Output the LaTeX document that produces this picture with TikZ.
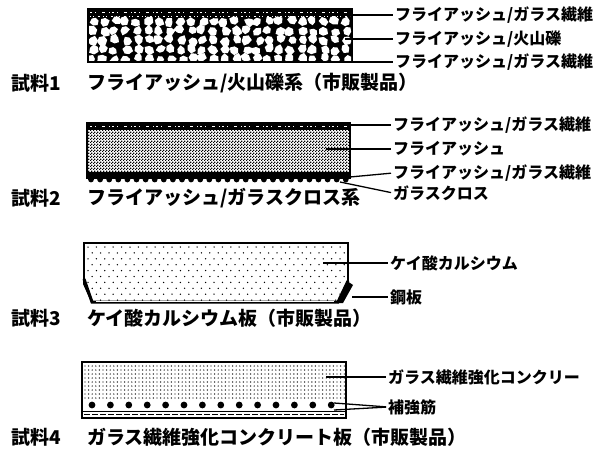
\documentclass[tikz,border=0pt]{standalone}
\usepackage{fontspec}
\newfontfamily\jp{Noto Sans CJK JP}
\usetikzlibrary{patterns.meta}
\pgfdeclarepattern{name=checker, type=uncolored,
  bottom left={\pgfpointorigin}, top right={\pgfpoint{3pt}{3pt}},
  tile size={\pgfpoint{3pt}{3pt}},
  code={\pgfpathrectangle{\pgfpointorigin}{\pgfpoint{1.5pt}{1.5pt}}
        \pgfpathrectangle{\pgfpoint{1.5pt}{1.5pt}}{\pgfpoint{1.5pt}{1.5pt}}
        \pgfusepath{fill}}}
\begin{document}
\begin{tikzpicture}[x=1pt,y=-1pt,
  lbl/.style={font=\jp\bfseries\fontsize{16}{16}\selectfont, anchor=west, inner sep=0pt},
  captxt/.style={font=\jp\bfseries\fontsize{19}{19}\selectfont, anchor=west, inner sep=0pt},
  leader/.style={line width=1.3pt, shorten >=2pt},
  outline/.style={line width=1.8pt},
  fleck/.style={white, line width=0.8pt, dash pattern=on 2pt off 3pt on 1pt off 6pt on 3pt off 4pt on 1pt off 2pt}]
\useasboundingbox[fill=white] (0,0) rectangle (594,452);

% ---------- sample 1: fly ash / volcanic gravel board ----------
\fill (87,8) rectangle (353,63);
\draw[fleck] (90,12) -- (350,12);
\draw[white, line width=0.6pt, dash pattern=on 1pt off 2pt on 1pt off 4pt on 2pt off 3pt] (90,16) -- (350,16);
\pgfmathsetseed{11}
\begin{scope}
  \clip (89,17) rectangle (351,61);
  \foreach \i in {0,...,23}{
    \foreach \j in {0,...,4}{
      \pgfmathsetmacro\cx{93+\i*11+2.2*rand}
      \pgfmathsetmacro\cy{21.5+\j*9.3+1.5*rand}
      \pgfmathsetmacro\rot{30*rand}
      \pgfmathsetmacro\ra{4.6+1.1*rand}
      \pgfmathsetmacro\rb{4.6+1.1*rand}
      \pgfmathsetmacro\rc{4.6+1.1*rand}
      \pgfmathsetmacro\rd{4.6+1.1*rand}
      \pgfmathsetmacro\re{4.6+1.1*rand}
      \pgfmathsetmacro\rf{4.6+1.1*rand}
      \fill[white,shift={(\cx,\cy)},rotate=\rot]
        (0:\ra) -- (60:\rb) -- (120:\rc) -- (180:\rd) -- (240:\re) -- (300:\rf) -- cycle;
    }
  }
\end{scope}
\coordinate (e1a) at (353,15);
\coordinate (e1b) at (345,39);
\coordinate (e1c) at (353,62);
\node[lbl] (l1a) at (395,15) {フライアッシュ/ガラス繊維};
\node[lbl] (l1b) at (395,39) {フライアッシュ/火山礫};
\node[lbl] (l1c) at (395,62) {フライアッシュ/ガラス繊維};
\draw[leader] (e1a) -- (l1a.west);
\draw[leader] (e1b) -- (l1b.west);
\draw[leader] (e1c) -- (l1c.west);
\node[captxt] (n1) at (11,83) {試料1};
\node[captxt] (c1) at (87,83) {フライアッシュ/火山礫系（市販製品）};

% ---------- sample 2: fly ash / glass cloth board ----------
\fill[pattern=checker] (87,130) rectangle (350,172);
\fill (87,123) rectangle (350,130);
\draw[fleck] (90,126.5) -- (347,126.5);
\fill (87,172) rectangle (350,178);
\foreach \k in {0,...,28}
  \fill (91+\k*9.1,179.5) circle (2.9);
\draw[outline] (87,123) rectangle (350,178);
\coordinate (e2a) at (350,125);
\coordinate (e2b) at (326,149);
\coordinate (e2c) at (350,177);
\coordinate (e2d) at (340,182);
\node[lbl] (l2a) at (393,125) {フライアッシュ/ガラス繊維};
\node[lbl] (l2b) at (393,149) {フライアッシュ};
\node[lbl] (l2c) at (393,173) {フライアッシュ/ガラス繊維};
\node[lbl] (l2d) at (393,193) {ガラスクロス};
\draw[leader] (e2a) -- (l2a.west);
\draw[leader] (e2b) -- (l2b.west);
\draw[leader] (e2c) -- (l2c.west);
\draw[leader] (e2d) -- (l2d.west);
\node[captxt] (n2) at (11,198) {試料2};
\node[captxt] (c2) at (87,198) {フライアッシュ/ガラスクロス系};

% ---------- sample 3: calcium silicate board on steel tray ----------
\begin{scope}
  \clip (84,243) -- (348,243) -- (348,284) -- (338,302) -- (92,302) -- (84,284) -- cycle;
  \foreach \j in {0,...,9}{
    \foreach \i in {0,...,31}{
      \pgfmathsetmacro\dx{mod(\j,2)*4.2}
      \fill (88+\i*8.4+\dx,247+\j*5.9) circle (0.75);
    }
  }
\end{scope}
\draw[outline] (84,243) -- (348,243) -- (348,284) -- (338,302) -- (92,302) -- (84,284) -- cycle;
\draw[line width=3pt] (84,279) -- (92,302) -- (338,302) -- (348,281);
\draw[white, line width=0.6pt] (96,301.5) -- (334,301.5);
\fill (347,281) -- (353,285) -- (343,303) -- (337,303) -- cycle;
\coordinate (e3a) at (323,263);
\coordinate (e3b) at (352,297);
\node[lbl] (l3a) at (390,263) {ケイ酸カルシウム};
\node[lbl] (l3b) at (390,297) {鋼板};
\draw[leader] (e3a) -- (l3a.west);
\draw[leader] (e3b) -- (l3b.west);
\node[captxt] (n3) at (11,318) {試料3};
\node[captxt] (c3) at (87,318) {ケイ酸カルシウム板（市販製品）};

% ---------- sample 4: glass fibre reinforced concrete board ----------
\begin{scope}
  \clip (82,362) rectangle (346,418);
  \foreach \j in {0,...,8}{
    \foreach \i in {0,...,72}{
      \fill (85+\i*3.6,366+\j*4) circle (0.7);
    }
  }
\end{scope}
\foreach \k in {0,...,13}
  \fill (92+\k*18.4,405) circle (3.4);
\draw[line width=0.8pt] (82,411) -- (346,411);
\draw[line width=1.8pt, dash pattern=on 6pt off 2pt] (84,414.5) -- (344,414.5);
\draw[outline] (82,362) rectangle (346,418);
\coordinate (e4a) at (326,377);
\coordinate (e4b) at (334,403);
\coordinate (e4c) at (334,410);
\node[lbl] (l4a) at (388,377) {ガラス繊維強化コンクリー};
\node[lbl] (l4b) at (388,407) {補強筋};
\draw[leader] (e4a) -- (l4a.west);
\draw[leader] (e4b) -- (l4b.west);
\draw[leader] (e4c) -- (l4b.west);
\node[captxt] (n4) at (11,437) {試料4};
\node[captxt] (c4) at (87,437) {ガラス繊維強化コンクリート板（市販製品）};
\end{tikzpicture}
\end{document}
